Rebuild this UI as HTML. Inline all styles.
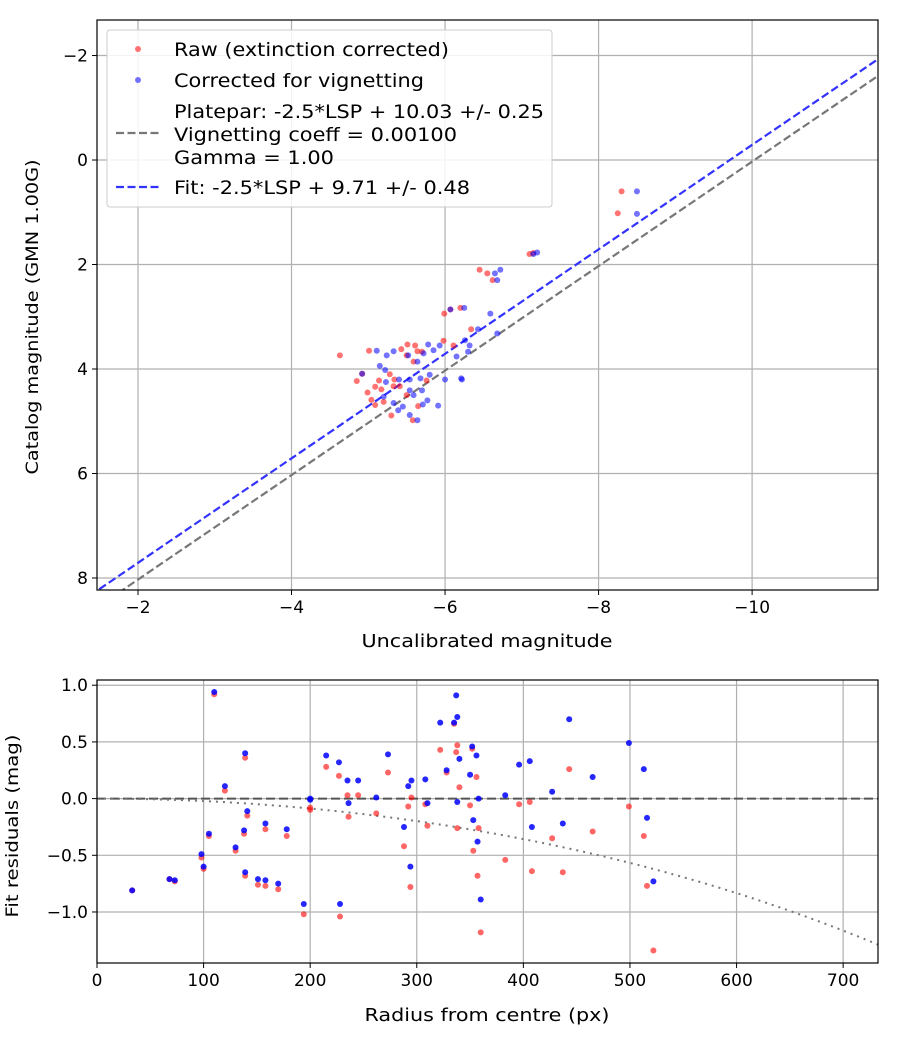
<!DOCTYPE html>
<html><head><meta charset="utf-8"><style>
body{margin:0;background:#fff}
svg{font-family:"DejaVu Sans","Liberation Sans",sans-serif}
</style></head><body>
<svg id="c" width="900" height="1050" xmlns="http://www.w3.org/2000/svg"></svg>
<script>
// ---- Top chart data ----
const rawX=[-8.3,-8.25,-7.1,-7.15,-6.45,-6.55,-6.62,-6.2,-5.99,-6.07,-6.34,-4.63,-5.01,-5.43,-5.51,-5.61,-5.64,-5.70,-5.50,-5.59,-5.98,-6.11,-4.85,-4.99,-5.09,-5.14,-5.28,-5.17,-5.04,-5.09,-5.20,-5.30,-5.41,-5.50,-5.65,-5.76,-5.34,-5.58,-5.33,-4.92];
const rawY=[0.6,1.02,1.8,1.78,2.1,2.17,2.3,2.83,2.94,2.86,3.24,3.74,3.65,3.62,3.53,3.55,3.66,3.67,3.74,3.86,3.46,3.55,4.23,4.45,4.34,4.22,4.10,4.39,4.59,4.69,4.63,4.89,4.33,4.50,4.71,4.22,4.20,4.98,4.33,4.09];
const corX=[-8.5,-8.5,-7.2,-7.15,-6.65,-6.72,-6.68,-6.25,-6.59,-6.07,-6.43,-6.68,-5.11,-5.24,-5.33,-5.52,-5.72,-5.78,-5.93,-5.85,-5.64,-6.15,-6.26,-6.32,-6.30,-4.92,-5.15,-5.22,-5.23,-5.40,-5.54,-5.68,-5.80,-6.00,-6.22,-5.20,-5.33,-5.39,-5.45,-5.54,-5.64,-5.70,-5.77,-5.91,-5.71,-5.59,-5.54,-6.21];
const corY=[0.6,1.03,1.77,1.8,2.17,2.1,2.3,2.83,2.94,2.86,3.24,3.32,3.65,3.74,3.66,3.74,3.70,3.53,3.55,3.64,3.86,3.76,3.45,3.55,3.67,4.09,3.94,4.02,4.25,4.20,4.20,4.18,4.11,4.20,4.20,4.53,4.65,4.79,4.72,4.88,4.98,4.41,4.60,4.70,4.68,4.50,4.41,4.18];
const topXTicks=[-2,-4,-6,-8,-10];
const topYTicks=[-2,0,2,4,6,8];
const platepar=10.03, fitZP=9.71;
// ---- Bottom chart data ----
const radius=[33,68,73,98,100,105,110,120,130,138,139,139,141,151,158,158,170,178,194,200,200,215,227,228,236,235,245,262,273,288,292,294,295,308,310,322,328,335,337,338,338,340,350,352,353,357,356,358,360,383,396,406,408,427,437,443,465,499,513,516,522];
const residCor=[-0.81,-0.71,-0.72,-0.49,-0.60,-0.31,0.94,0.11,-0.43,-0.28,0.40,-0.65,-0.11,-0.71,-0.72,-0.22,-0.75,-0.27,-0.93,-0.01,0.00,0.38,0.32,-0.93,-0.04,0.16,0.16,0.01,0.39,-0.25,0.11,-0.60,0.16,0.17,-0.04,0.67,0.25,0.67,0.91,-0.03,0.72,0.35,0.21,0.46,-0.19,-0.38,0.38,0.00,-0.89,0.03,0.30,0.33,-0.25,0.06,-0.22,0.70,0.19,0.49,0.26,-0.17,-0.73];
const residRaw=[-0.81,-0.71,-0.73,-0.52,-0.62,-0.33,0.92,0.07,-0.46,-0.31,0.36,-0.68,-0.15,-0.76,-0.77,-0.27,-0.80,-0.33,-1.02,-0.08,-0.10,0.28,0.20,-1.04,-0.16,0.03,0.03,-0.13,0.23,-0.42,-0.07,-0.78,0.01,-0.05,-0.24,0.43,0.23,0.66,0.41,-0.26,0.47,0.10,-0.06,0.44,-0.46,-0.68,0.19,-0.26,-1.18,-0.54,-0.05,-0.03,-0.64,-0.35,-0.65,0.26,-0.29,-0.07,-0.33,-0.77,-1.34];
const botXTicks=[0,100,200,300,400,500,600,700];
const botYTicks=[1.0,0.5,0.0,-0.5,-1.0];
const vignCoeff=0.001;

const NS="http://www.w3.org/2000/svg", svg=document.getElementById('c');
function mk(t,a,p){const e=document.createElementNS(NS,t);for(const k in a)e.setAttribute(k,a[k]);(p||svg).appendChild(e);return e;}
const T={l:97,r:878,t:20,b:590,x0:-1.466,x1:-11.64,y0:-2.68,y1:8.23};
const tx=v=>T.l+(v-T.x0)/(T.x1-T.x0)*(T.r-T.l);
const ty=v=>T.t+(v-T.y0)/(T.y1-T.y0)*(T.b-T.t);
const B={l:97,r:878,t:680,b:963,x0:0,x1:732.7,y0:1.046,y1:-1.45};
const bx=v=>B.l+(v-B.x0)/(B.x1-B.x0)*(B.r-B.l);
const by=v=>B.t+(v-B.y0)/(B.y1-B.y0)*(B.b-B.t);

function grid(A,xt,yt,fx,fy,fmtx,fmty,gname){
  const g=mk('g',{});
  
  
  xt.forEach(v=>{const X=fx(v);mk('line',{x1:X,x2:X,y1:A.t,y2:A.b,stroke:'#b0b0b0','stroke-width':1.2},g);
    mk('line',{x1:X,x2:X,y1:A.b,y2:A.b+5,stroke:'#000'},g);
    const t=mk('text',{x:X,y:A.b+23,'text-anchor':'middle','font-size':17},g);t.textContent=fmtx(v);
    });
  yt.forEach(v=>{const Y=fy(v);mk('line',{x1:A.l,x2:A.r,y1:Y,y2:Y,stroke:'#b0b0b0','stroke-width':1.2},g);
    mk('line',{x1:A.l-5,x2:A.l,y1:Y,y2:Y,stroke:'#000'},g);
    const t=mk('text',{x:A.l-9,y:Y+6,'text-anchor':'end','font-size':17},g);t.textContent=fmty(v);
    });
}
const mfmt=v=>(v<0?'\u2212':'')+Math.abs(v);
grid(T,topXTicks,topYTicks,tx,ty,mfmt,mfmt,'top');
grid(B,botXTicks,botYTicks,bx,by,v=>String(v),v=>(v<0?'\u2212':'')+Math.abs(v).toFixed(1),'bottom');
const defs=mk('defs',{});
const cp=mk('clipPath',{id:'ct'},defs);mk('rect',{x:T.l,y:T.t,width:T.r-T.l,height:T.b-T.t},cp);
const cp2=mk('clipPath',{id:'cb'},defs);mk('rect',{x:B.l,y:B.t,width:B.r-B.l,height:B.b-B.t},cp2);
const gt=mk('g',{'clip-path':'url(#ct)'});
let l=mk('line',{x1:tx(-1),y1:ty(-1+platepar),x2:tx(-12),y2:ty(-12+platepar),stroke:'#777','stroke-width':2.2,'stroke-dasharray':'8,3.5'},gt);

l=mk('line',{x1:tx(-1),y1:ty(-1+fitZP),x2:tx(-12),y2:ty(-12+fitZP),stroke:'#3333ff','stroke-width':2.2,'stroke-dasharray':'8,3.5'},gt);

rawX.forEach((v,i)=>{const c=mk('circle',{cx:tx(v),cy:ty(rawY[i]),r:3,fill:'#ff0000','fill-opacity':0.55},gt);
  });
corX.forEach((v,i)=>{const c=mk('circle',{cx:tx(v),cy:ty(corY[i]),r:3,fill:'#0000ff','fill-opacity':0.55},gt);
  });
const gb=mk('g',{'clip-path':'url(#cb)'});
l=mk('line',{x1:B.l,x2:B.r,y1:by(0),y2:by(0),stroke:'#555','stroke-width':2,'stroke-dasharray':'9,4'},gb);

let d='';for(let r=0;r<=740;r+=5){d+=(r?'L':'M')+bx(r)+','+by(10*Math.log10(Math.cos(vignCoeff*r)));}
l=mk('path',{d:d,fill:'none',stroke:'#777','stroke-width':2,'stroke-dasharray':'2,5'},gb);

radius.forEach((v,i)=>{const c=mk('circle',{cx:bx(v),cy:by(residRaw[i]),r:3,fill:'#ff0000','fill-opacity':0.6},gb);
  });
radius.forEach((v,i)=>{const c=mk('circle',{cx:bx(v),cy:by(residCor[i]),r:3,fill:'#0000ff','fill-opacity':0.85},gb);
  });
[T,B].forEach(A=>{const f=mk('rect',{x:A.l,y:A.t,width:A.r-A.l,height:A.b-A.t,fill:'none',stroke:'#000','stroke-width':1.2});
  });
function txt(s,a,name){const t=mk('text',a);t.textContent=s;return t;}
txt('Uncalibrated magnitude',{x:487,y:647,'text-anchor':'middle','font-size':18,textLength:251,lengthAdjust:'spacingAndGlyphs'},'x-axis-title');
txt('Catalog magnitude (GMN 1.00G)',{x:38,y:317,'text-anchor':'middle','font-size':17,textLength:315,lengthAdjust:'spacingAndGlyphs',transform:'rotate(-90 38 317)'},'y-axis-title');
txt('Radius from centre (px)',{x:487,y:1021,'text-anchor':'middle','font-size':18,textLength:245,lengthAdjust:'spacingAndGlyphs'},'x-axis-title-bottom');
txt('Fit residuals (mag)',{x:18,y:826,'text-anchor':'middle','font-size':17,textLength:183,lengthAdjust:'spacingAndGlyphs',transform:'rotate(-90 18 826)'},'y-axis-title-bottom');
const lg=mk('g',{});
mk('rect',{x:107,y:30,width:445,height:177,rx:3,fill:'#fff','fill-opacity':0.85,stroke:'#ccc'},lg);
mk('circle',{cx:138,cy:49,r:3,fill:'#ff0000','fill-opacity':0.55},lg);
mk('circle',{cx:138,cy:80,r:3,fill:'#0000ff','fill-opacity':0.55},lg);
mk('line',{x1:116,x2:160,y1:133,y2:133,stroke:'#777','stroke-width':2.2,'stroke-dasharray':'8,3.5'},lg);
mk('line',{x1:116,x2:160,y1:187,y2:187,stroke:'#3333ff','stroke-width':2.2,'stroke-dasharray':'8,3.5'},lg);
[['Raw (extinction corrected)',56,275],['Corrected for vignetting',87,250],['Platepar: -2.5*LSP + 10.03 +/- 0.25',118,370],['Vignetting coeff = 0.00100',141,283],['Gamma = 1.00',164,160],['Fit: -2.5*LSP + 9.71 +/- 0.48',194,296]].forEach(a=>{
  const t=mk('text',{x:174,y:a[1],'font-size':19,textLength:a[2],lengthAdjust:'spacingAndGlyphs'},lg);t.textContent=a[0];});
</script>
</body></html>
